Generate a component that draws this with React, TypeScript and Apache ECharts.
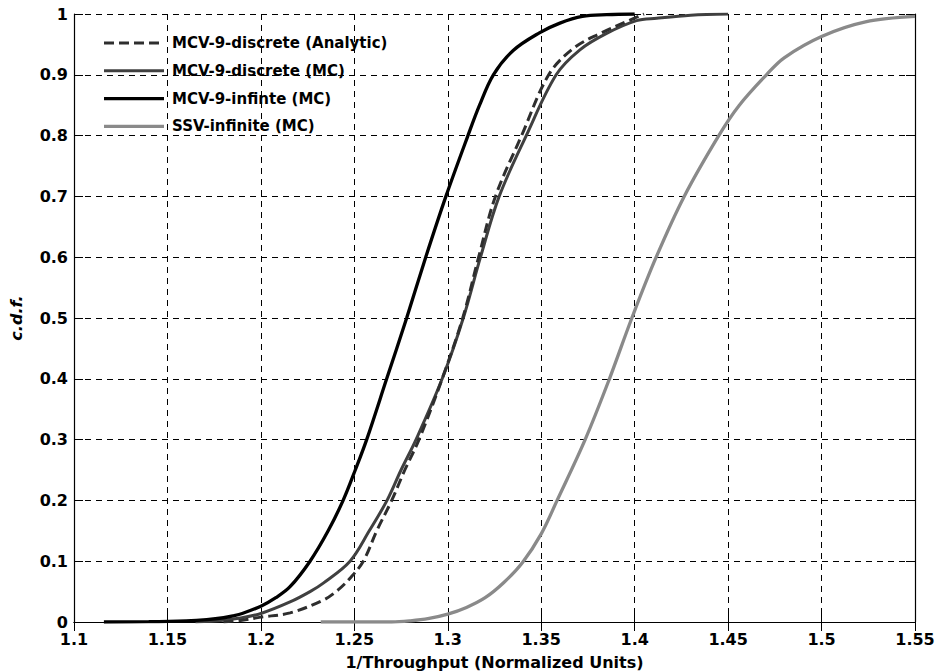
import React, { useEffect, useRef } from "react";
import * as echarts from "echarts";

// MCV-9-discrete (Analytic)
const analyticX = [1.18, 1.19, 1.2, 1.2156, 1.2334, 1.241, 1.2477, 1.2548, 1.262, 1.27, 1.277, 1.2846, 1.297, 1.308, 1.3165, 1.3255, 1.3395, 1.354, 1.367, 1.3815, 1.3975, 1.405];
const analyticY = [0, 0.003, 0.008, 0.015, 0.036, 0.052, 0.072, 0.1, 0.15, 0.2, 0.25, 0.3, 0.4, 0.5, 0.6, 0.7, 0.8, 0.9, 0.943, 0.968, 0.99, 1];

// MCV-9-discrete (MC)
const discreteX = [1.165, 1.18, 1.19, 1.2, 1.2156, 1.2263, 1.2334, 1.2477, 1.258, 1.2675, 1.275, 1.283, 1.297, 1.3083, 1.3175, 1.3275, 1.342, 1.358, 1.3707, 1.385, 1.401, 1.4118, 1.43, 1.45];
const discreteY = [0, 0.003, 0.007, 0.014, 0.033, 0.05, 0.064, 0.1, 0.15, 0.2, 0.25, 0.3, 0.4, 0.5, 0.6, 0.7, 0.8, 0.9, 0.941, 0.968, 0.989, 0.993, 0.998, 1];

// MCV-9-infinte (MC)
const infiniteX = [1.116, 1.14, 1.16, 1.171, 1.18, 1.185, 1.19, 1.2, 1.208, 1.2156, 1.2263, 1.236, 1.244, 1.2505, 1.2566, 1.2673, 1.278, 1.2882, 1.299, 1.3108, 1.317, 1.3244, 1.335, 1.349, 1.36, 1.372, 1.385, 1.4];
const infiniteY = [0, 0.0005, 0.002, 0.004, 0.007, 0.01, 0.014, 0.026, 0.04, 0.058, 0.1, 0.15, 0.2, 0.25, 0.3, 0.4, 0.5, 0.6, 0.7, 0.8, 0.85, 0.9, 0.94, 0.969, 0.985, 0.996, 0.999, 1];

// SSV-infinite (MC)
const ssvX = [1.232, 1.27, 1.28, 1.29, 1.3, 1.31, 1.32, 1.33, 1.34, 1.35, 1.3585, 1.3735, 1.3865, 1.3985, 1.4115, 1.4265, 1.445, 1.456, 1.4705, 1.48, 1.5, 1.5235, 1.55];
const ssvY = [0, 0, 0.002, 0.006, 0.013, 0.024, 0.04, 0.065, 0.098, 0.145, 0.2, 0.3, 0.4, 0.5, 0.6, 0.7, 0.8, 0.85, 0.9, 0.928, 0.963, 0.987, 0.996];

const seriesNames = [
  "MCV-9-discrete (Analytic)",
  "MCV-9-discrete (MC)",
  "MCV-9-infinte (MC)",
  "SSV-infinite (MC)",
];

const xName = "1/Throughput (Normalized Units)";
const yName = "c.d.f.";

const zip = (xs: number[], ys: number[]) => xs.map((x, i) => [x, ys[i]]);

const FONT = "DejaVu Sans";

const styles = [
  { color: "#2e2e2e", width: 3, dash: [10, 5] as number[] | null },
  { color: "#404040", width: 3, dash: null },
  { color: "#000000", width: 3.3, dash: null },
  { color: "#8a8a8a", width: 3.3, dash: null },
];

export default function App() {
  const ref = useRef<HTMLDivElement>(null);

  useEffect(() => {
    if (!ref.current) return;
    const chart = echarts.init(ref.current, null, { renderer: "svg" });

    const fmtX = (v: number) => String(Math.round(v * 100) / 100);
    const fmtY = (v: number) => String(Math.round(v * 10) / 10);
    const grid = { color: "#000", type: [6, 5] as number[], width: 1 };
    const axisLine = { show: true, lineStyle: { color: "#000", width: 1.2 } };
    const tick = { show: true, inside: true, length: 9, lineStyle: { color: "#000", width: 1 } };
    const label = { color: "#000", fontFamily: FONT, fontWeight: "bold" as const, fontSize: 16 };

    const mk = (idx: number, data: number[][], z: number) => ({
      name: seriesNames[idx],
      type: "line",
      data,
      showSymbol: false,
      symbol: "none",
      smooth: 0.35,
      z,
      lineStyle: {
        color: styles[idx].color,
        width: styles[idx].width,
        type: styles[idx].dash ? styles[idx].dash : "solid",
      },
      itemStyle: { color: styles[idx].color },
      emphasis: { disabled: true },
    });

    // legend drawn as graphics (line samples + labels)
    const legendLeft = 104;
    const legendTop = 43;
    const legendStep = 27.8;
    const legendGraphics: any[] = [];
    seriesNames.forEach((name, i) => {
      const y = legendTop + i * legendStep;
      legendGraphics.push({
        type: "line",
        shape: { x1: legendLeft, y1: y, x2: legendLeft + 60, y2: y },
        style: {
          stroke: styles[i].color,
          lineWidth: styles[i].width,
          lineDash: styles[i].dash || undefined,
        },
        z: 100,
      });
      legendGraphics.push({
        type: "text",
        x: legendLeft + 68,
        y,
        style: {
          text: name,
          fill: "#000",
          font: `bold 15px "${FONT}"`,
          verticalAlign: "middle",
          align: "left",
        },
        z: 100,
      });
    });

    chart.setOption({
      animation: false,
      backgroundColor: "#fff",
      grid: { left: 74, right: 23, top: 14, bottom: 50, outerBoundsMode: "none", containLabel: false },
      graphic: legendGraphics,
      xAxis: [
        {
          type: "value",
          min: 1.1,
          max: 1.55,
          interval: 0.05,
          position: "bottom",
          name: xName,
          nameLocation: "middle",
          nameGap: 32,
          nameTextStyle: { color: "#000", fontFamily: FONT, fontWeight: "bold", fontSize: 16 },
          axisLine,
          axisTick: tick,
          axisLabel: { ...label, margin: 9, formatter: fmtX },
          splitLine: { show: true, lineStyle: grid },
        },
        {
          type: "value",
          min: 1.1,
          max: 1.55,
          interval: 0.05,
          position: "top",
          axisLine,
          axisTick: tick,
          axisLabel: { show: false },
          splitLine: { show: false },
        },
      ],
      yAxis: [
        {
          type: "value",
          min: 0,
          max: 1,
          interval: 0.1,
          position: "left",
          name: yName,
          nameLocation: "middle",
          nameGap: 50,
          nameRotate: 90,
          nameTextStyle: { color: "#000", fontFamily: FONT, fontWeight: "bold", fontStyle: "italic", fontSize: 16 },
          axisLine,
          axisTick: tick,
          axisLabel: { ...label, margin: 6, formatter: fmtY },
          splitLine: { show: true, lineStyle: grid },
        },
        {
          type: "value",
          min: 0,
          max: 1,
          interval: 0.1,
          position: "right",
          axisLine,
          axisTick: tick,
          axisLabel: { show: false },
          splitLine: { show: false },
        },
      ],
      series: [
        mk(3, zip(ssvX, ssvY), 2),
        mk(1, zip(discreteX, discreteY), 3),
        mk(0, zip(analyticX, analyticY), 4),
        mk(2, zip(infiniteX, infiniteY), 5),
      ],
    });

    return () => chart.dispose();
  }, []);

  return (
    <div
      ref={ref}
      style={{ position: "fixed", left: 0, top: 0, width: 938, height: 672, background: "#fff" }}
    />
  );
}
